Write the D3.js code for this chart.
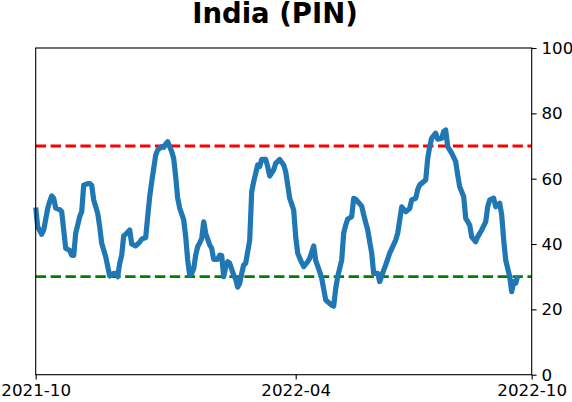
<!DOCTYPE html>
<html>
<head>
	<script src="https://cdn.jsdelivr.net/npm/d3@7"></script>
	<style>
		body { margin: 0; background: #fff; }
		text { font-family: "DejaVu Sans", sans-serif; }
	</style>
</head>
<body>
<script>

var title = "India (PIN)";

// trading session number (0 = start of 2021-10) and the indicator value
var sessions = [0, 1, 3, 4, 6, 7, 8, 9, 10, 12, 13, 14, 15, 17, 18, 19, 20, 21, 22, 23,
	24, 26, 27, 28, 29, 31, 32, 33, 35, 36, 37, 39, 40, 41, 42, 43, 44, 45, 47, 48,
	49, 50, 52, 53, 55, 56, 57, 58, 60, 61, 63, 64, 65, 66, 67, 68, 69, 70, 71, 72,
	74, 75, 76, 77, 78, 79, 80, 81, 82, 83, 84, 85, 87, 88, 89, 91, 92, 93, 94, 95,
	96, 97, 99, 100, 101, 102, 103, 104, 105, 107, 108, 109, 110, 111, 112, 113, 115, 116, 117, 119,
	120, 122, 124, 125, 126, 127, 129, 130, 131, 133, 134, 136, 137, 139, 140, 142, 143, 145, 146, 148,
	149, 150, 151, 153, 154, 155, 156, 158, 159, 160, 161, 163, 164, 166, 167, 168, 169, 171, 172, 174,
	175, 177, 180, 181, 183, 185, 187, 188, 190, 191, 192, 194, 195, 196, 197, 198, 200, 201, 203, 204,
	205, 206, 208, 210, 211, 212, 214, 215, 217, 218, 220, 221, 223, 225, 226, 227, 229, 230, 232, 233,
	234, 235, 237, 238, 239, 240, 241];

var values = [51.2, 45.3, 43.0, 44.3, 50.9, 53.0, 54.7, 54.0, 51.0, 50.5, 49.9, 44.3, 38.7, 38.0, 36.6, 36.5, 43.3, 45.8, 48.4, 49.9,
	58.0, 58.5, 58.5, 58.0, 53.5, 49.4, 45.3, 40.2, 36.1, 33.1, 30.2, 31.0, 31.0, 30.0, 34.1, 36.6, 42.5, 43.0, 44.3, 40.0,
	39.7, 39.4, 40.6, 41.5, 42.0, 48.4, 54.5, 59.0, 67.2, 68.8, 69.8, 69.6, 70.6, 71.3, 69.8, 68.3, 66.2, 60.6, 54.0, 51.0,
	47.4, 42.2, 35.1, 30.5, 31.0, 32.5, 36.6, 39.2, 40.3, 41.7, 46.8, 43.3, 39.7, 38.7, 35.3, 35.3, 36.6, 36.5, 30.0, 33.0,
	34.6, 34.1, 30.5, 29.2, 26.8, 28.0, 31.0, 33.6, 34.1, 41.2, 56.0, 59.1, 61.6, 64.2, 63.7, 65.9, 65.9, 63.7, 60.8, 62.7,
	64.7, 65.9, 64.2, 62.1, 58.1, 54.0, 50.4, 42.2, 37.2, 34.3, 33.1, 34.6, 35.6, 39.4, 35.0, 31.5, 29.5, 22.9, 22.3, 21.3,
	21.0, 26.4, 30.0, 35.1, 43.3, 45.8, 47.6, 48.4, 54.0, 53.7, 53.0, 51.6, 48.9, 44.3, 40.7, 37.2, 31.0, 31.0, 28.5, 32.0,
	33.6, 37.2, 41.2, 43.3, 51.4, 49.9, 50.9, 53.5, 54.0, 56.7, 58.1, 59.1, 59.6, 66.2, 69.8, 72.4, 73.9, 72.1, 72.4, 74.4,
	74.9, 69.8, 67.8, 65.2, 61.1, 57.5, 54.5, 47.9, 45.8, 42.2, 40.7, 42.2, 44.3, 46.8, 51.4, 53.5, 54.0, 51.4, 52.5, 48.9,
	41.2, 35.1, 30.0, 25.4, 28.5, 28.0, 30.2];

var sessionSpan = [0, 248];
var xTickSessions = [0, 130, 248];
var xTickLabels = ["2021-10", "2022-04", "2022-10"];
var yTicks = [0, 20, 40, 60, 80, 100];
var upperLevel = 70;
var lowerLevel = 30;

var width = 572;
var height = 402;
var plotLeft = 35.7, plotRight = 531.7, plotTop = 48, plotBottom = 374.7;

var svg = d3.select("body").append("svg")
	.attr("width", width)
	.attr("height", height);

var x = d3.scaleLinear().domain(sessionSpan).range([plotLeft, plotRight]);
var y = d3.scaleLinear().domain([0, 100]).range([plotBottom, plotTop]);

var points = sessions.map(function (s, i) {
	return { s: s, v: values[i] };
});

// reference levels
svg.selectAll(".level")
	.data([{ v: upperLevel, c: "#ff0000" }, { v: lowerLevel, c: "#008000" }])
	.enter()
	.append("line")
	.attr("class", "level")
	.attr("x1", plotLeft)
	.attr("x2", plotRight)
	.attr("y1", function (d) { return y(d.v); })
	.attr("y2", function (d) { return y(d.v); })
	.attr("stroke", function (d) { return d.c; })
	.attr("stroke-width", 2.8)
	.attr("stroke-dasharray", "10.4,4.5");

var line = d3.line()
	.x(function (d) { return x(d.s); })
	.y(function (d) { return y(d.v); });

svg.append("path")
	.datum(points)
	.attr("d", line)
	.attr("fill", "none")
	.attr("stroke", "#1f77b4")
	.attr("stroke-width", 5.2)
	.attr("stroke-linejoin", "round")
	.attr("stroke-linecap", "butt");

// frame
svg.append("rect")
	.attr("x", plotLeft)
	.attr("y", plotTop)
	.attr("width", plotRight - plotLeft)
	.attr("height", plotBottom - plotTop)
	.attr("fill", "none")
	.attr("stroke", "#000")
	.attr("stroke-width", 1.1);

var xAxis = d3.axisBottom(x)
	.tickValues(xTickSessions)
	.tickFormat(function (d, i) { return xTickLabels[i]; })
	.tickSize(4.9)
	.tickPadding(4.2);

var gx = svg.append("g")
	.attr("transform", "translate(0," + plotBottom + ")")
	.call(xAxis);

var yAxis = d3.axisRight(y)
	.tickValues(yTicks)
	.tickSize(4.9)
	.tickPadding(4.9);

var gy = svg.append("g")
	.attr("transform", "translate(" + plotRight + ",0)")
	.call(yAxis);

[gx, gy].forEach(function (g) {
	g.select(".domain").remove();
	g.selectAll(".tick line").attr("stroke", "#000").attr("stroke-width", 1.1);
	g.selectAll("text")
		.attr("fill", "#000")
		.style("font-family", "'DejaVu Sans', sans-serif")
		.style("font-size", "16.7px");
});

svg.append("text")
	.attr("x", 275)
	.attr("y", 23)
	.attr("text-anchor", "middle")
	.style("font-family", "'DejaVu Sans', sans-serif")
	.style("font-weight", "bold")
	.style("font-size", "27.5px")
	.text(title);

</script>
</body>
</html>
